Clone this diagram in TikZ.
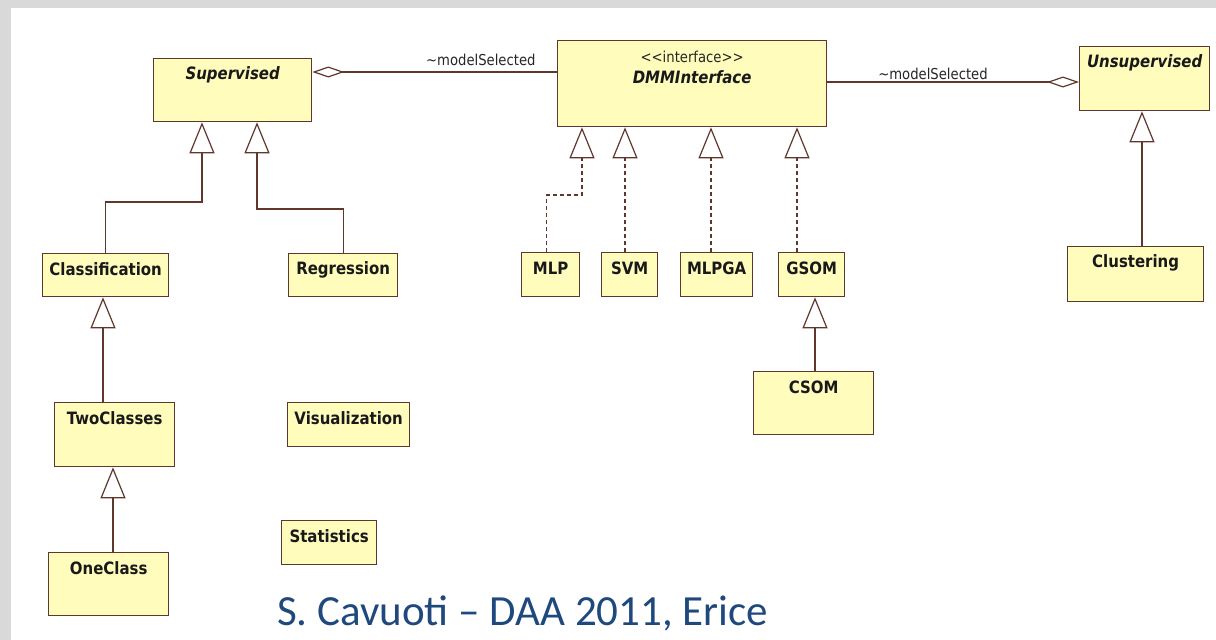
\documentclass[tikz,border=0pt]{standalone}
\usepackage{fontspec}
\usetikzlibrary{arrows.meta}
\setmainfont{DejaVu Sans}
\newfontfamily\umlfont[FakeStretch=0.88]{DejaVu Sans}
\newfontfamily\slidefont{Carlito}
\definecolor{slidegray}{RGB}{217,217,217}
\definecolor{boxfill}{RGB}{255,252,188}
\definecolor{boxline}{RGB}{95,55,45}
\definecolor{slideblue}{RGB}{31,73,125}
\tikzset{
  umlbox/.style={draw=boxline, fill=boxfill, line width=1.3pt, inner sep=0pt, anchor=north west},
  umlname/.style={font=\umlfont\fontsize{17}{19}\selectfont\bfseries, text=black!90, inner sep=0pt},
  umlabstract/.style={font=\umlfont\fontsize{17}{19}\selectfont\bfseries\itshape, text=black!90, inner sep=0pt},
  umlplain/.style={font=\umlfont\fontsize{15}{17}\selectfont, text=black!85, inner sep=0pt},
  conn/.style={draw=boxline, line width=1.2pt},
  gen/.style={conn, -{Triangle[open, length=31pt, width=25pt, fill=white]}},
  real/.style={gen, dash pattern=on 4pt off 3pt},
  aggr/.style={conn, {Diamond[open, length=32pt, width=11pt, fill=white]}-},
}
% class box: name, left, top, width, height, label, label style
\newcommand\umlclass[7]{%
  \node[umlbox, minimum width=#4pt, minimum height=#5pt] (#1) at (#2,#3) {};
  \node[#7] (#1-lbl) at ([yshift=-16.5pt]#1.north) {#6};
}
\begin{document}
\begin{tikzpicture}[x=1pt, y=-1pt]
\useasboundingbox (0,0) rectangle (1216,640);
% slide frame
\fill[white] (0,0) rectangle (1216,640);
\fill[slidegray] (0,0) rectangle (1216,8);
\fill[slidegray] (0,0) rectangle (11,640);

% classes
\umlclass{sup}{153}{58}{158}{63}{Supervised}{umlabstract}
\umlclass{uns}{1079}{46}{130}{64}{Unsupervised}{umlabstract}
\node[umlbox, minimum width=269pt, minimum height=86pt] (dmm) at (557,40) {};
\node[umlplain] (dmm-st) at ([yshift=-17pt]dmm.north) {<{}<interface>{}>};
\node[umlabstract] (dmm-lbl) at ([yshift=-37pt]dmm.north) {DMMInterface};

\umlclass{clas}{42}{253}{126}{43}{Classification}{umlname}
\umlclass{regr}{288}{253}{109}{43}{Regression}{umlname}
\umlclass{two}{54}{402}{120}{64}{TwoClasses}{umlname}
\umlclass{one}{48}{552}{120}{63}{OneClass}{umlname}
\umlclass{vis}{287}{402}{122}{44}{Visualization}{umlname}
\umlclass{stat}{281}{520}{95}{44}{Statistics}{umlname}

\umlclass{mlp}{521}{252}{58}{44}{MLP}{umlname}
\umlclass{svm}{601}{252}{56}{44}{SVM}{umlname}
\umlclass{mlpga}{680}{252}{72}{44}{MLPGA}{umlname}
\umlclass{gsom}{778}{252}{66}{44}{GSOM}{umlname}
\umlclass{csom}{753}{371}{120}{63}{CSOM}{umlname}
\umlclass{clus}{1067}{246}{136}{55}{Clustering}{umlname}

% bend points
\coordinate (bclas) at (202,202);
\coordinate (bregr) at (257,209);
\coordinate (bmlp) at (582,195);
\coordinate (xsvm) at (625,0);
\coordinate (xmlpga) at (711,0);
\coordinate (xgsom) at (797,0);
\coordinate (xcsom) at (815,0);
\coordinate (xtwo) at (103,0);
\coordinate (xone) at (113,0);
\coordinate (xclus) at (1142,0);

% generalizations
\draw[gen] (clas.north) |- (bclas) -- (bclas |- sup.south);
\draw[gen] (regr.north) |- (bregr) -- (bregr |- sup.south);
\draw[gen] (xtwo |- two.north) -- (xtwo |- clas.south);
\draw[gen] (xone |- one.north) -- (xone |- two.south);
\draw[gen] (xcsom |- csom.north) -- (xcsom |- gsom.south);
\draw[gen] (xclus |- clus.north) -- (xclus |- uns.south);

% realizations of the interface
\draw[real] ([xshift=-4pt]mlp.north) |- (bmlp) -- (bmlp |- dmm.south);
\draw[real] (xsvm |- svm.north) -- (xsvm |- dmm.south);
\draw[real] (xmlpga |- mlpga.north) -- (xmlpga |- dmm.south);
\draw[real] (xgsom |- gsom.north) -- (xgsom |- dmm.south);

% aggregations
\coordinate (ysup) at (0,72);
\coordinate (yuns) at (0,82);
\draw[aggr] (sup.east |- ysup) -- (dmm.west |- ysup)
  node[umlplain, pos=0.52, above=6pt, anchor=south west, xshift=-14pt] (lsup) {\textasciitilde modelSelected};
\draw[aggr] (uns.west |- yuns) -- (dmm.east |- yuns)
  node[umlplain, pos=0.58, anchor=south, yshift=2pt] (luns) {\textasciitilde modelSelected};

% footer
\node[font=\slidefont\fontsize{43}{46}\selectfont, text=slideblue, anchor=base west, inner sep=0pt] (footer) at (277,625) {S. Cavuoti – DAA 2011, Erice};
\end{tikzpicture}
\end{document}
